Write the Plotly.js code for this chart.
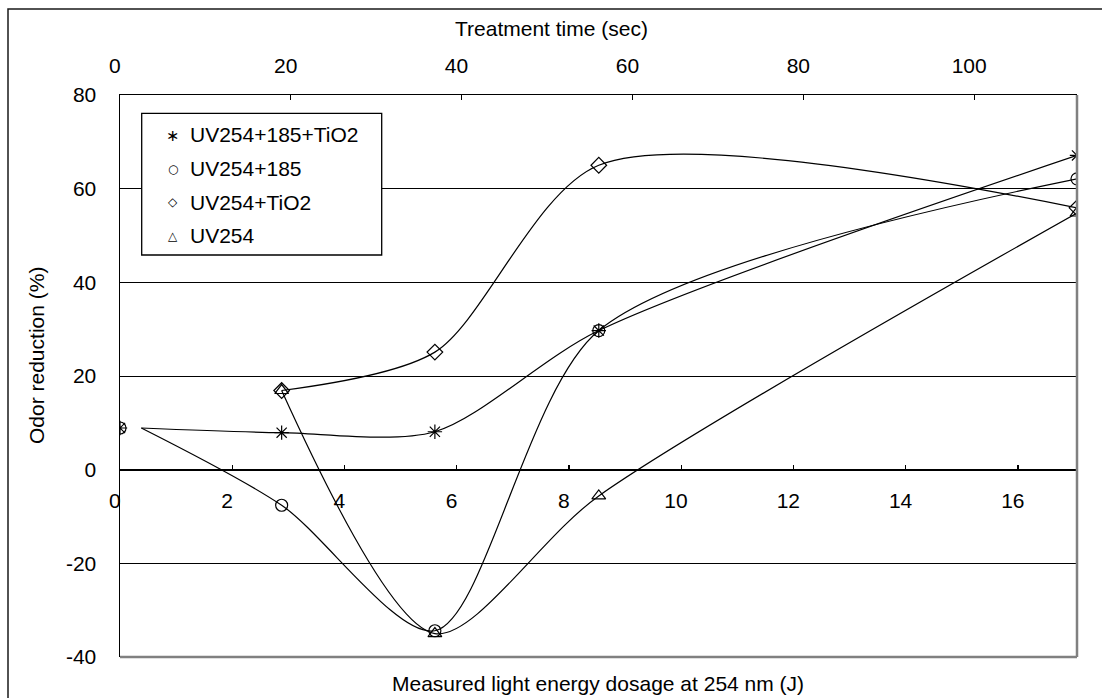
<!DOCTYPE html>
<html><head><meta charset="utf-8">
<script src="https://cdn.plot.ly/plotly-3.0.1.min.js"></script>
<style>html,body{margin:0;padding:0;background:#fff;} #chart{width:1102px;height:698px;}</style>
</head><body><div id="chart"></div>
<script>
// ---- data ----
const seriesNames = ['UV254+185+TiO2', 'UV254+185', 'UV254+TiO2', 'UV254'];
const energy = [0, 2.88, 5.61, 8.53, 17.05];          // J (marker positions)
const energyLine = [0.38, 2.88, 5.61, 8.53, 17.05];   // J (curve starts slightly right of the first marker)
const uv254_185_tio2 = [8.9, 7.9, 8.1, 29.7, 67.1];
const uv254_185 = [8.9, -7.6, -34.4, 29.7, 62.1];
const uv254_tio2 = [null, 16.9, 25.1, 65.0, 55.9];
const uv254 = [null, 16.9, -35.0, -5.6, 54.8];
const energyTicks = [0, 2, 4, 6, 8, 10, 12, 14, 16];
const timeTicks = [0, 20, 40, 60, 80, 100];
const yTicks = [-40, -20, 0, 20, 40, 60, 80];
const symbols = ['asterisk-open', 'circle-open', 'diamond-open', 'triangle-up-open'];
const legendGlyphs = ['\u2217', '\u25CB', '\u25C7', '\u25B3'];
const legendGlyphSizes = [16, 12, 12, 12];
const allSeries = [uv254_185_tio2, uv254_185, uv254_tio2, uv254];

// ---- geometry helpers (pixel -> paper) ----
const W = 1102, H = 698, L = 120, R = 25, T = 95, B = 41;
const PW = W - L - R, PH = H - T - B;
const px = x => (x - L) / PW;
const py = y => (H - B - y) / PH;

const FONT = 'Liberation Sans, Arial, Helvetica, sans-serif';
const EN = '\u2002';
const traces = [];
allSeries.forEach((vals, i) => {
  traces.push({
    x: i < 2 ? energyLine : energy, y: vals, type: 'scatter', mode: 'lines',
    line: {shape: 'spline', smoothing: 0.8, color: '#000', width: 1.2},
    showlegend: false, hoverinfo: 'skip', connectgaps: false
  });
});
allSeries.forEach((vals, i) => {
  traces.push({
    x: energy, y: vals, type: 'scatter', mode: 'markers', name: seriesNames[i],
    marker: {symbol: symbols[i], size: 12, color: '#000', line: {color: '#000', width: 1.2}},
    showlegend: false
  });
});
// empty trace so the top (time) axis is drawn
traces.push({x: [], y: [], type: 'scatter', mode: 'markers', xaxis: 'x2', yaxis: 'y', showlegend: false, hoverinfo: 'skip'});

const legRows = [134, 168.5, 202, 235.5];
const annotations = [
  {text: 'Treatment time (sec)', xref: 'paper', yref: 'paper', x: px(551), y: py(28), xanchor: 'center', yanchor: 'middle', showarrow: false, font: {family: FONT, size: 21, color: '#000'}},
  {text: 'Measured light energy dosage at 254 nm (J)', xref: 'paper', yref: 'paper', x: px(598), y: py(683), xanchor: 'center', yanchor: 'middle', showarrow: false, font: {family: FONT, size: 21, color: '#000'}},
  {text: 'Odor reduction (%)', xref: 'paper', yref: 'paper', x: px(36), y: py(356), xanchor: 'center', yanchor: 'middle', textangle: -90, showarrow: false, font: {family: FONT, size: 21, color: '#000'}}
];
seriesNames.forEach((n, i) => {
  annotations.push({text: n, xref: 'paper', yref: 'paper', x: px(188), y: py(legRows[i]), xanchor: 'left', yanchor: 'middle', showarrow: false, font: {family: FONT, size: 21, color: '#000'}});
  annotations.push({text: legendGlyphs[i], xref: 'paper', yref: 'paper', x: px(172.7), y: py(legRows[i] + (i === 0 ? 1.5 : 0)), xanchor: 'center', yanchor: 'middle', showarrow: false, font: {family: 'DejaVu Sans', size: legendGlyphSizes[i], color: '#000'}});
});

const shapes = [
  {type: 'rect', xref: 'paper', yref: 'paper', x0: px(8), x1: px(1120), y0: py(720), y1: py(9), line: {color: '#1a1a1a', width: 1.5}, fillcolor: 'rgba(0,0,0,0)', layer: 'above'},
  {type: 'rect', xref: 'paper', yref: 'paper', x0: px(141.7), x1: px(381.7), y0: py(255), y1: py(113.3), line: {color: '#000', width: 1.3}, fillcolor: '#fff', layer: 'above'},
  {type: 'line', xref: 'paper', yref: 'paper', x0: 0, x1: 1, y0: 0, y1: 0, line: {color: '#808080', width: 2.5}, layer: 'above'},
  {type: 'line', xref: 'paper', yref: 'paper', x0: 1, x1: 1, y0: 0, y1: 1, line: {color: '#808080', width: 2.5}, layer: 'above'}
];

const tickFont = {family: FONT, size: 21, color: '#000'};
const layout = {
  width: W, height: H, margin: {l: L, r: R, t: T, b: B},
  paper_bgcolor: '#fff', plot_bgcolor: '#fff', showlegend: false,
  font: {family: FONT, size: 21, color: '#000'},
  xaxis: {range: [0, 17.05], tickvals: energyTicks, ticktext: energyTicks.map(v => v + EN), ticks: 'inside', ticklen: 5, tickwidth: 1.2, tickcolor: '#000',
    showline: true, linecolor: '#000', linewidth: 1.2, showgrid: false, zeroline: false, anchor: 'free', position: 40 / 120,
    tickfont: tickFont, ticklabelstandoff: 12, fixedrange: true},
  xaxis2: {overlaying: 'x', side: 'top', anchor: 'y', range: [0, 112], tickvals: timeTicks, ticktext: timeTicks.map(v => v + EN), ticks: 'inside', ticklen: 5, tickwidth: 1.2, tickcolor: '#000',
    showline: true, linecolor: '#000', linewidth: 1.5, showgrid: false, zeroline: false, tickfont: tickFont, ticklabelstandoff: 12, fixedrange: true},
  yaxis: {range: [-40, 80], tickvals: yTicks, ticktext: yTicks.map(String), ticks: '', showgrid: true, gridcolor: '#000', gridwidth: 1, 
    showline: true, linecolor: '#000', linewidth: 1.5, zeroline: false, tickfont: tickFont, ticklabelstandoff: 18, fixedrange: true},
  shapes: shapes,
  annotations: annotations
};
Plotly.newPlot('chart', traces, layout, {staticPlot: true, displayModeBar: false});
</script></body></html>
